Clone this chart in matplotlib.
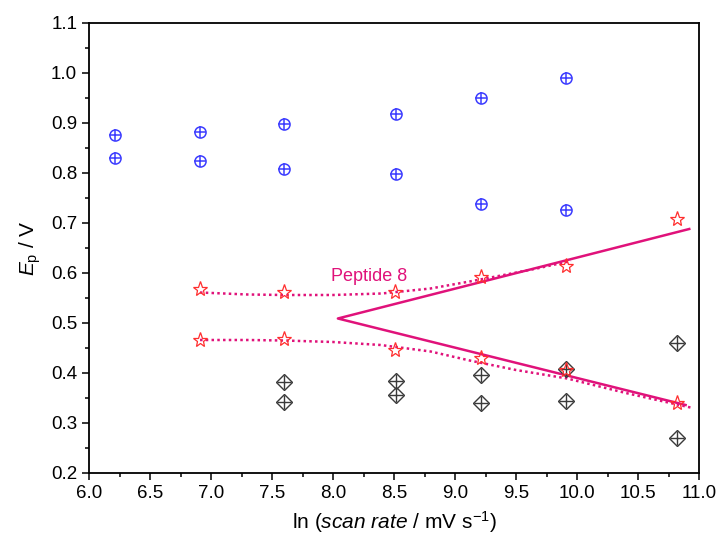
import matplotlib
matplotlib.use("Agg")
import matplotlib.pyplot as plt
from matplotlib.ticker import MultipleLocator, FormatStrFormatter

plt.rcParams["font.family"] = ["Liberation Sans", "DejaVu Sans"]
plt.rcParams["mathtext.fontset"] = "custom"
plt.rcParams["mathtext.rm"] = "Liberation Sans"
plt.rcParams["mathtext.it"] = "Liberation Sans:italic"

# ln(scan rate) positions and peak potentials (V)
x_blue = [6.21, 6.91, 7.60, 8.52, 9.21, 9.91]
ep_blue_hi = [0.875, 0.881, 0.897, 0.918, 0.950, 0.989]
ep_blue_lo = [0.829, 0.823, 0.808, 0.798, 0.738, 0.725]

x_star = [6.91, 7.60, 8.51, 9.21, 9.91, 10.82]
ep_star_hi = [0.568, 0.562, 0.561, 0.591, 0.614, 0.708]
ep_star_lo = [0.466, 0.467, 0.446, 0.429, 0.406, 0.339]

x_diam = [7.60, 8.52, 9.21, 9.91, 10.82]
ep_diam_hi = [0.382, 0.384, 0.395, 0.407, 0.459]
ep_diam_lo = [0.342, 0.355, 0.339, 0.344, 0.269]

# Laviron-type fit for peptide 8 (solid) and smoothed trend curves (dotted)
fit_x = [10.92, 8.04, 10.89]
fit_y = [0.688, 0.509, 0.336]
trend_hi_x = [6.91, 7.3, 7.6, 8.0, 8.4, 8.8, 9.12, 9.4, 9.67, 9.95]
trend_hi_y = [0.561, 0.557, 0.556, 0.556, 0.559, 0.569, 0.583, 0.596, 0.609, 0.624]
trend_lo_x = [6.91, 7.3, 7.6, 8.0, 8.39, 8.8, 9.12, 9.5, 9.92, 10.4, 10.93]
trend_lo_y = [0.466, 0.466, 0.465, 0.462, 0.456, 0.443, 0.425, 0.406, 0.389, 0.360, 0.331]

blue = "#3c3cff"
red = "#ff2e2e"
grey = "#3a3a3a"
magenta = "#e0127a"

fig = plt.figure(figsize=(7.19, 5.46), dpi=100)
ax = fig.add_axes([0.1238, 0.1337, 0.8484, 0.8242])

ax.plot(fit_x, fit_y, color=magenta, lw=1.8, zorder=2)
ax.plot(trend_hi_x, trend_hi_y, color=magenta, lw=1.8, ls=(0, (1, 1.3)), zorder=2)
ax.plot(trend_lo_x, trend_lo_y, color=magenta, lw=1.8, ls=(0, (1, 1.3)), zorder=2)

for ys in (ep_blue_hi, ep_blue_lo):
    ax.plot(x_blue, ys, ls="none", marker="o", ms=8, mfc="none", mec=blue, mew=1.1, zorder=3)
    ax.plot(x_blue, ys, ls="none", marker="+", ms=8, mec=blue, mew=1.1, zorder=3)

for ys in (ep_diam_hi, ep_diam_lo):
    ax.plot(x_diam, ys, ls="none", marker="D", ms=8, mfc="none", mec=grey, mew=1.0, zorder=3)
    ax.plot(x_diam, ys, ls="none", marker="+", ms=10, mec=grey, mew=1.0, zorder=3)

for ys in (ep_star_hi, ep_star_lo):
    ax.plot(x_star, ys, ls="none", marker="*", ms=11, mfc="none", mec=red, mew=0.9, zorder=4)

ax.text(8.30, 0.593, "Peptide 8", color=magenta, fontsize=13, ha="center", va="center")

ax.set_xlim(6.0, 11.0)
ax.set_ylim(0.2, 1.1)
ax.xaxis.set_major_locator(MultipleLocator(0.5))
ax.xaxis.set_minor_locator(MultipleLocator(0.25))
ax.yaxis.set_major_locator(MultipleLocator(0.1))
ax.yaxis.set_minor_locator(MultipleLocator(0.05))
ax.xaxis.set_major_formatter(FormatStrFormatter("%.1f"))
ax.yaxis.set_major_formatter(FormatStrFormatter("%.1f"))
ax.tick_params(which="major", direction="out", length=5, width=1.1, labelsize=13.5, colors="black")
ax.tick_params(which="minor", direction="out", length=3, width=1.1)
for sp in ax.spines.values():
    sp.set_linewidth(1.3)

ax.set_xlabel(r"ln ($\mathit{scan\ rate}$ / mV s$^{\mathregular{-1}}$)", fontsize=15, labelpad=5)
ax.set_ylabel(r"$\mathit{E}_{\mathregular{p}}$ / V", fontsize=15, labelpad=6)

fig.savefig("out.png", dpi=100, facecolor="white")
